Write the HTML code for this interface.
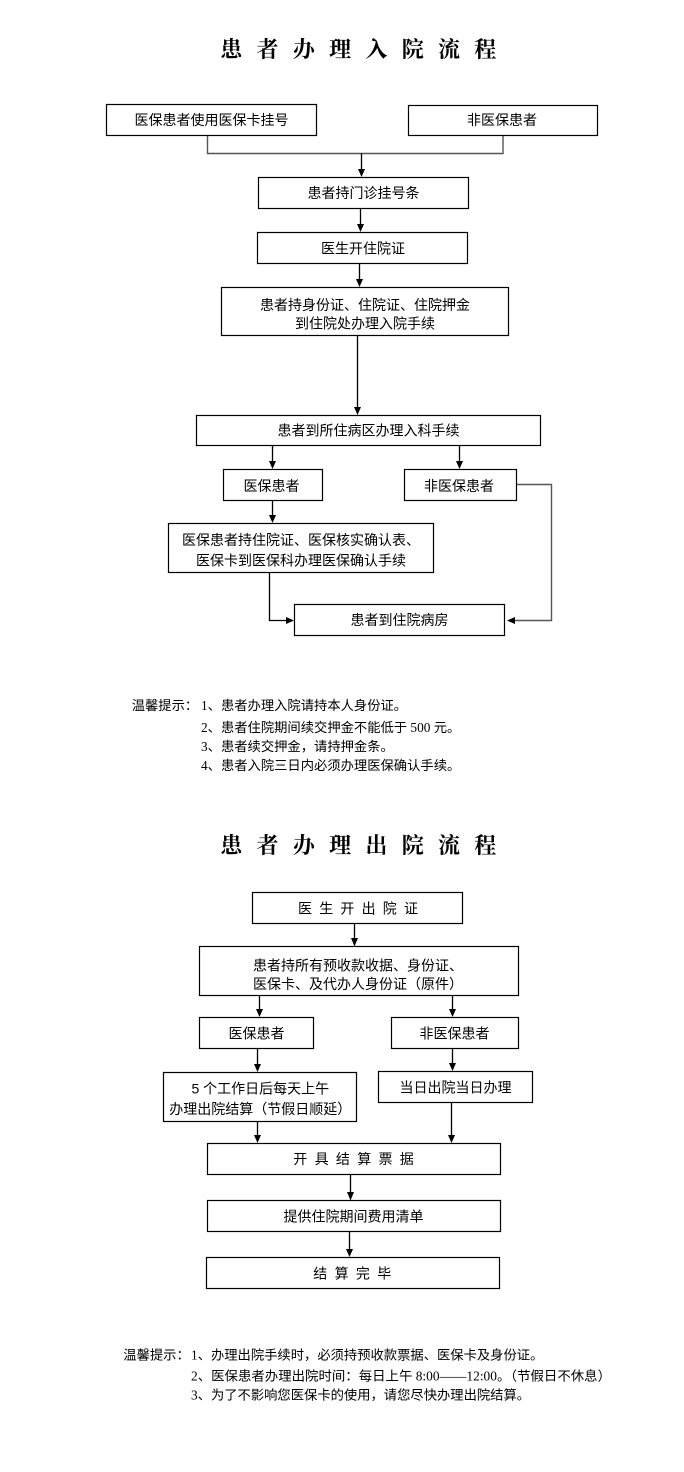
<!DOCTYPE html>
<html>
<head>
<meta charset="utf-8">
<style>
html,body{margin:0;padding:0;background:#fff;}
body{width:684px;height:1472px;overflow:hidden;}
svg{display:block;}
.t{font-family:"Liberation Sans","Noto Sans CJK SC",sans-serif;font-size:14px;fill:#000;dominant-baseline:central;text-anchor:middle;}
.title{font-family:"Liberation Serif","Noto Serif CJK SC",serif;font-size:22px;font-weight:bold;fill:#000;dominant-baseline:central;text-anchor:middle;}
.n{font-family:"Liberation Serif","Noto Sans CJK SC",sans-serif;font-size:13.3px;fill:#000;dominant-baseline:central;}
.b{fill:#fff;stroke:#000;stroke-width:1.2;}
.l{fill:none;stroke:#000;stroke-width:1.3;}
.g{fill:none;stroke:#555;stroke-width:1.4;}
.h{fill:#000;stroke:none;}
</style>
</head>
<body>
<svg width="684" height="1472" viewBox="0 0 684 1472" xmlns="http://www.w3.org/2000/svg">

<!-- ===== Title 1 ===== -->
<text class="title" x="231.2 267.5 303.8 340.1 376.4 412.7 449 485.3" y="49.5">患者办理入院流程</text>

<!-- Box A / B -->
<rect class="b" x="106.5" y="104.5" width="210" height="31"/>
<text class="t" x="211.5" y="120">医保患者使用医保卡挂号</text>
<rect class="b" x="408.5" y="105.5" width="189" height="30"/>
<text class="t" x="502" y="120">非医保患者</text>

<!-- merge connector -->
<polyline class="g" points="207.5,136 207.5,153.5 503,153.5 503,136"/>

<!-- arrow 1 -->
<line class="l" x1="361.5" y1="153.5" x2="361.5" y2="170"/>
<polygon class="h" points="358,169 365,169 361.5,177"/>

<rect class="b" x="258.5" y="177.5" width="210" height="31"/>
<text class="t" x="363.5" y="193">患者持门诊挂号条</text>

<line class="l" x1="360.5" y1="209" x2="360.5" y2="225"/>
<polygon class="h" points="357,224 364,224 360.5,232"/>

<rect class="b" x="257.5" y="232.5" width="210" height="31"/>
<text class="t" x="363" y="248.3">医生开住院证</text>

<line class="l" x1="359.5" y1="263" x2="359.5" y2="280"/>
<polygon class="h" points="356,279 363,279 359.5,287"/>

<rect class="b" x="221.5" y="287.5" width="287" height="48"/>
<text class="t" x="365" y="305">患者持身份证、住院证、住院押金</text>
<text class="t" x="365" y="323.3">到住院处办理入院手续</text>

<line class="l" x1="357.5" y1="335" x2="357.5" y2="408"/>
<polygon class="h" points="354,407 361,407 357.5,415"/>

<rect class="b" x="196.5" y="415.5" width="344" height="30"/>
<text class="t" x="368.5" y="430.5">患者到所住病区办理入科手续</text>

<line class="l" x1="272.5" y1="445" x2="272.5" y2="462"/>
<polygon class="h" points="269,461 276,461 272.5,469"/>
<line class="l" x1="459.5" y1="445" x2="459.5" y2="462"/>
<polygon class="h" points="456,461 463,461 459.5,469"/>

<rect class="b" x="223.5" y="469.5" width="99" height="31"/>
<text class="t" x="271.5" y="486">医保患者</text>
<rect class="b" x="404.5" y="469.5" width="112" height="31"/>
<text class="t" x="459" y="486">非医保患者</text>

<line class="l" x1="272.5" y1="500" x2="272.5" y2="516"/>
<polygon class="h" points="269,515 276,515 272.5,523"/>

<rect class="b" x="168.5" y="523.5" width="265" height="49"/>
<text class="t" x="301" y="540">医保患者持住院证、医保核实确认表、</text>
<text class="t" x="301" y="560.5">医保卡到医保科办理医保确认手续</text>

<!-- left connector to ward -->
<polyline class="l" points="269.5,572.5 269.5,620.5 287,620.5"/>
<polygon class="h" points="286,617 286,624 294,620.5"/>

<!-- right connector from non-insured -->
<polyline class="g" points="517,484.5 551.5,484.5 551.5,620.5 514,620.5"/>
<polygon class="h" points="515,617 515,624 507,620.5"/>

<rect class="b" x="294.5" y="604.5" width="210" height="31"/>
<text class="t" x="399.5" y="620">患者到住院病房</text>

<!-- Notes 1 -->
<text class="n" x="131.7" y="705.3">温馨提示：</text>
<text class="n" x="201" y="705.3">1、患者办理入院请持本人身份证。</text>
<text class="n" x="201" y="727.3">2、患者住院期间续交押金不能低于 500 元。</text>
<text class="n" x="201" y="746.3">3、患者续交押金，请持押金条。</text>
<text class="n" x="201" y="765.3">4、患者入院三日内必须办理医保确认手续。</text>

<!-- ===== Title 2 ===== -->
<text class="title" x="231.2 267.5 303.8 340.1 376.4 412.7 449 485.3" y="845.5">患者办理出院流程</text>

<rect class="b" x="252.5" y="892.5" width="210" height="31"/>
<text class="t" x="305 326.2 347.4 368.6 389.8 411" y="908.3">医生开出院证</text>

<line class="l" x1="354.5" y1="923" x2="354.5" y2="939"/>
<polygon class="h" points="351,938 358,938 354.5,946.5"/>

<rect class="b" x="199.5" y="946.5" width="319" height="49"/>
<text class="t" x="358" y="965.7">患者持所有预收款收据、身份证、</text>
<text class="t" x="358" y="984">医保卡、及代办人身份证（原件）</text>

<line class="l" x1="259.5" y1="995" x2="259.5" y2="1010"/>
<polygon class="h" points="256,1009 263,1009 259.5,1017"/>
<line class="l" x1="452.5" y1="995" x2="452.5" y2="1010"/>
<polygon class="h" points="449,1009 456,1009 452.5,1017"/>

<rect class="b" x="199.5" y="1017.5" width="114" height="31"/>
<text class="t" x="256.5" y="1033.3">医保患者</text>
<rect class="b" x="391.5" y="1017.5" width="127" height="31"/>
<text class="t" x="454.5" y="1033.3">非医保患者</text>

<line class="l" x1="257.5" y1="1049" x2="257.5" y2="1065"/>
<polygon class="h" points="254,1064 261,1064 257.5,1072"/>
<line class="l" x1="452.5" y1="1049" x2="452.5" y2="1064"/>
<polygon class="h" points="449,1063 456,1063 452.5,1071"/>

<rect class="b" x="163.5" y="1072.5" width="193" height="49"/>
<text class="t" x="260.3" y="1088.3">5 个工作日后每天上午</text>
<text class="t" x="260.3" y="1109">办理出院结算（节假日顺延）</text>

<rect class="b" x="378.5" y="1071.5" width="154" height="31"/>
<text class="t" x="455.5" y="1087.7">当日出院当日办理</text>

<line class="l" x1="257.5" y1="1122" x2="257.5" y2="1136"/>
<polygon class="h" points="254,1135 261,1135 257.5,1143"/>
<line class="l" x1="451.5" y1="1102" x2="451.5" y2="1136"/>
<polygon class="h" points="448,1135 455,1135 451.5,1143"/>

<rect class="b" x="207.5" y="1143.5" width="293" height="31"/>
<text class="t" x="300.3 321.6 342.9 364.2 385.5 406.8" y="1159">开具结算票据</text>

<line class="l" x1="350.5" y1="1174" x2="350.5" y2="1193"/>
<polygon class="h" points="347,1192 354,1192 350.5,1200.5"/>

<rect class="b" x="207.5" y="1200.5" width="293" height="31"/>
<text class="t" x="353.5" y="1216.7">提供住院期间费用清单</text>

<line class="l" x1="349.5" y1="1231" x2="349.5" y2="1250"/>
<polygon class="h" points="346,1249 353,1249 349.5,1257"/>

<rect class="b" x="206.5" y="1257.5" width="293" height="31"/>
<text class="t" x="320.3 341.6 362.9 384.2" y="1273.3">结算完毕</text>

<!-- Notes 2 -->
<text class="n" x="123.3" y="1355">温馨提示：</text>
<text class="n" x="191" y="1355">1、办理出院手续时，必须持预收款票据、医保卡及身份证。</text>
<text class="n" x="191" y="1376" textLength="420" lengthAdjust="spacingAndGlyphs">2、医保患者办理出院时间：每日上午 8:00——12:00。（节假日不休息）</text>
<text class="n" x="191" y="1395">3、为了不影响您医保卡的使用，请您尽快办理出院结算。</text>

</svg>
</body>
</html>
